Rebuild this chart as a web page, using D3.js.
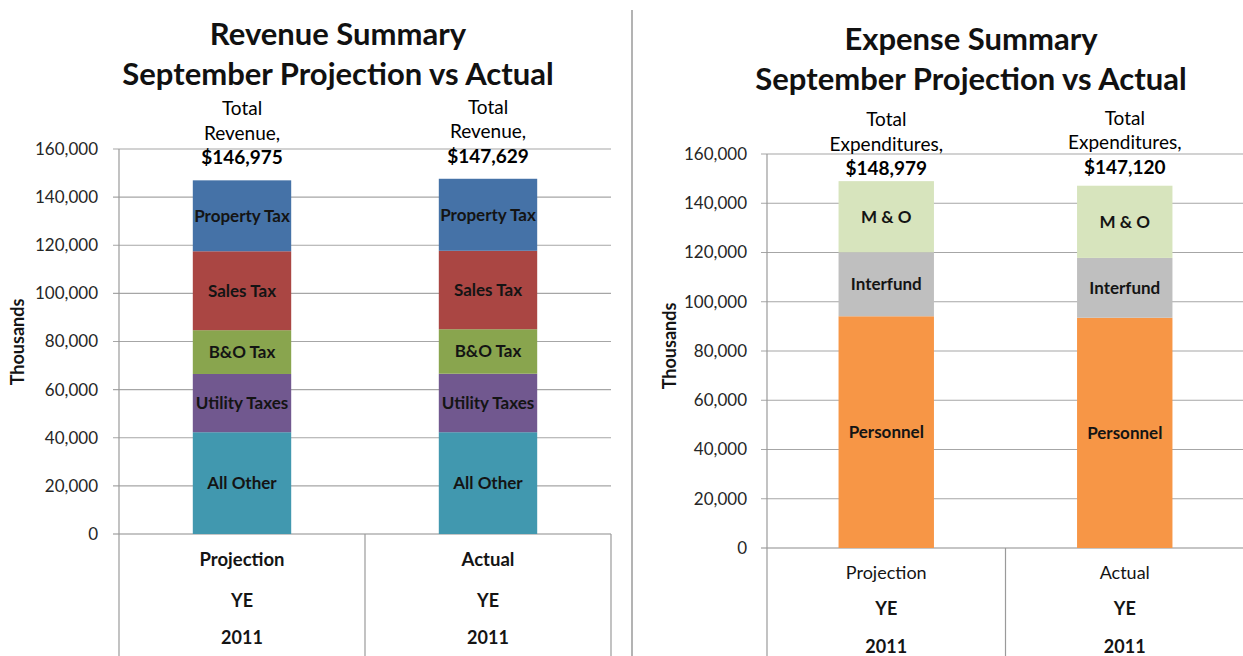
<!DOCTYPE html>
<html>
<head>
<meta charset="utf-8">
<script src="https://cdn.jsdelivr.net/npm/d3@7"></script>
<style>
  body { margin: 0; background: #fff; }
  text { font-family: Lato, "Open Sans", sans-serif; fill: #141414; }
</style>
</head>
<body>
<svg id="chart" width="1243" height="656"></svg>
<script>
// categories on the multi-level x axis
const categories = ["Projection", "Actual"];
const catLine2 = "YE";
const catLine3 = "2011";
const yTicks = [0, 20000, 40000, 60000, 80000, 100000, 120000, 140000, 160000];

// revenue (thousands), stacked bottom to top
const revSeries = ["All Other", "Utility Taxes", "B&O Tax", "Sales Tax", "Property Tax"];
const revProjection = [42300, 24200, 18200, 32800, 29475];
const revActual = [42300, 24300, 18500, 32600, 29929];
const revTotals = [146975, 147629];
const revColors = ["#4198AF", "#71588F", "#89A54E", "#AA4643", "#4572A7"];

// expenses (thousands), stacked bottom to top
const expSeries = ["Personnel", "Interfund", "M & O"];
const expProjection = [94100, 26000, 28879];
const expActual = [93500, 24300, 29320];
const expTotals = [148979, 147120];
const expColors = ["#F79646", "#BFBFBF", "#D7E4BD"];

let svg = d3.select("#chart");

// separator between the two charts
svg.append("line")
    .attr("x1", 632).attr("x2", 632)
    .attr("y1", 10).attr("y2", 656)
    .attr("stroke", "#9a9a9a").attr("stroke-width", 1.5);

function drawChart(opt) {
    let g = svg.append("g");
    let fs = opt.fs;

    let x = d3.scaleBand().domain(categories).range([opt.left, opt.right]);
    let y = d3.scaleLinear().domain([0, 160000]).range([opt.zero, opt.top]);

    // rows for the stack: one per category
    let rows = categories.map((c, i) => {
        let r = {cat: c};
        opt.series.forEach((s, j) => { r[s] = opt.values[i][j]; });
        return r;
    });
    let stack = d3.stack().keys(opt.series)(rows);

    // titles
    g.selectAll("text.title")
        .data(opt.title)
        .enter().append("text")
        .attr("class", "title")
        .attr("x", opt.titleX)
        .attr("y", (d, i) => opt.titleY + i * 40)
        .attr("text-anchor", "middle")
        .style("font-size", fs.title + "px")
        .style("font-weight", "bold")
        .style("fill", "#111")
        .text(d => d);

    // gridlines
    g.selectAll("line.grid")
        .data(yTicks)
        .enter().append("line")
        .attr("class", "grid")
        .attr("x1", opt.left - 6)
        .attr("x2", opt.right)
        .attr("y1", d => y(d)).attr("y2", d => y(d))
        .attr("stroke", d => d === 0 ? "#8c8c8c" : "#a6a6a6")
        .attr("stroke-width", 1.2);

    // y axis
    let yAxis = d3.axisLeft(y).tickValues(yTicks).tickSize(0).tickPadding(opt.tickPad)
        .tickFormat(d3.format(","));
    let ya = g.append("g")
        .attr("transform", "translate(" + opt.left + ",0)")
        .call(yAxis);
    ya.select(".domain").remove();
    ya.selectAll("text")
        .style("font-size", fs.tick + "px")
        .style("fill", "#262626");

    g.append("text")
        .attr("transform", "translate(" + opt.axisTitleX + "," + opt.axisTitleY + ") rotate(-90)")
        .attr("text-anchor", "middle")
        .style("font-size", fs.axis + "px")
        .style("font-weight", "bold")
        .text("Thousands");

    // vertical axis line and category box
    let vlines = [opt.left].concat(categories.slice(1).map(c => x(c)));
    vlines.push(opt.right);
    g.selectAll("line.cat")
        .data(vlines)
        .enter().append("line")
        .attr("class", "cat")
        .attr("x1", d => d).attr("x2", d => d)
        .attr("y1", (d, i) => i === 0 ? opt.top : opt.zero)
        .attr("y2", 656)
        .attr("stroke", "#9a9a9a")
        .attr("stroke-width", 1.2);

    // bars
    let bw = x.bandwidth() * 0.4;
    let layer = g.selectAll("g.layer")
        .data(stack)
        .enter().append("g")
        .attr("class", "layer")
        .attr("fill", (d, i) => opt.colors[i]);

    layer.selectAll("rect")
        .data(d => d)
        .enter().append("rect")
        .attr("x", d => x(d.data.cat) + (x.bandwidth() - bw) / 2)
        .attr("width", bw)
        .attr("y", d => y(d[1]))
        .attr("height", d => y(d[0]) - y(d[1]));

    layer.selectAll("text")
        .data(d => d.map(v => ({v: v, key: d.key})))
        .enter().append("text")
        .attr("x", d => x(d.v.data.cat) + x.bandwidth() / 2)
        .attr("y", d => y((d.v[0] + d.v[1]) / 2) + fs.seg * 0.35)
        .attr("text-anchor", "middle")
        .style("font-size", fs.seg + "px")
        .style("font-weight", "bold")
        .text(d => d.key);

    // total labels above each bar
    categories.forEach((c, i) => {
        let lines = ["Total", opt.totalName + ",", d3.format("$,")(opt.totals[i])];
        g.selectAll(null)
            .data(lines)
            .enter().append("text")
            .attr("x", x(c) + x.bandwidth() / 2)
            .attr("y", (d, k) => y(opt.totals[i]) - opt.totalGap[i] - (2 - k) * 24.5)
            .attr("text-anchor", "middle")
            .style("font-size", fs.total + "px")
            .style("font-weight", (d, k) => k === 2 ? "bold" : "normal")
            .style("fill", "#000")
            .text(d => d);
    });

    // multi-level category labels
    let labelRows = [categories, categories.map(() => catLine2), categories.map(() => catLine3)];
    labelRows.forEach((row, r) => {
        g.selectAll(null)
            .data(row)
            .enter().append("text")
            .attr("x", (d, i) => x(categories[i]) + x.bandwidth() / 2)
            .attr("y", opt.catY[r])
            .attr("text-anchor", "middle")
            .style("font-size", (r === 0 ? fs.cat : fs.cat2) + "px")
            .style("font-weight", r === 0 ? opt.catWeight : "bold")
            .text(d => d);
    });
}

drawChart({
    title: ["Revenue Summary", "September Projection vs Actual"],
    titleX: 338, titleY: 45,
    left: 119, right: 611,
    top: 149, zero: 534, tickPad: 21,
    axisTitleX: 24, axisTitleY: 342,
    series: revSeries, values: [revProjection, revActual],
    colors: revColors, totals: revTotals, totalName: "Revenue", totalGap: [16, 16],
    catY: [566, 607, 644], catWeight: "bold",
    fs: {title: 31, tick: 17, axis: 18, seg: 17, total: 19, cat: 18.5, cat2: 18}
});

drawChart({
    title: ["Expense Summary", "September Projection vs Actual"],
    titleX: 971, titleY: 50,
    left: 767, right: 1244,
    top: 154, zero: 548, tickPad: 20,
    axisTitleX: 676, axisTitleY: 346,
    series: expSeries, values: [expProjection, expActual],
    colors: expColors, totals: expTotals, totalName: "Expenditures", totalGap: [6, 12],
    catY: [579, 615, 653], catWeight: "normal",
    fs: {title: 31, tick: 17, axis: 18, seg: 17, total: 19, cat: 18, cat2: 18}
});
</script>
</body>
</html>
